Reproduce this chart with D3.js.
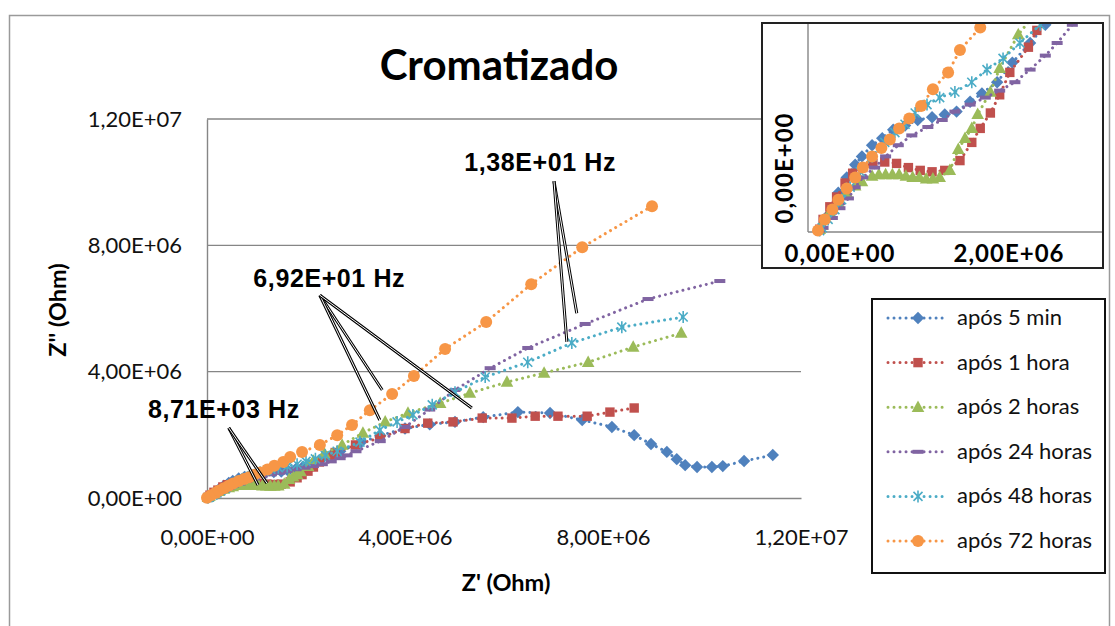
<!DOCTYPE html>
<html><head><meta charset="utf-8">
<script src="https://cdn.jsdelivr.net/npm/d3@7"></script>
<style>body{margin:0;background:#fff}svg{display:block}</style>
</head><body>
<svg id="c" width="1115" height="626"></svg>
<script>
// ---- data (values in units of 1E+06 Ohm: [Z', Z''])
const seriesNames = ["após 5 min","após 1 hora","após 2 horas","após 24 horas","após 48 horas","após 72 horas"];
const seriesColors = ["#4F81BD","#C0504D","#9BBB59","#8064A2","#4BACC6","#F79646"];
const seriesMarkers = ["diamond","square","triangle","dash","star","circle"];

const apos5min = [[0.03,0.03],[0.12,0.12],[0.24,0.28],[0.34,0.39],[0.44,0.48],[0.52,0.54],[0.64,0.62],[0.76,0.67],[0.89,0.73],[1.03,0.76],[1.18,0.80],[1.35,0.82],[1.50,0.84],[1.64,0.86],[1.80,0.93],[1.94,0.99],[2.12,1.07],[2.30,1.21],[2.51,1.35],[2.69,1.48],[3.10,1.75],[3.50,1.98],[4.00,2.20],[4.50,2.33],[5.01,2.41],[5.58,2.56],[6.28,2.72],[6.93,2.69],[7.58,2.47],[8.18,2.25],[8.63,1.99],[8.97,1.71],[9.29,1.46],[9.49,1.23],[9.66,1.04],[9.90,0.98],[10.20,0.98],[10.42,1.01],[10.85,1.17],[11.43,1.36]];
const apos1hora = [[0.02,0.02],[0.06,0.09],[0.14,0.18],[0.22,0.25],[0.32,0.35],[0.41,0.42],[0.53,0.46],[0.65,0.49],[0.79,0.50],[0.93,0.49],[1.07,0.46],[1.21,0.44],[1.35,0.43],[1.50,0.44],[1.68,0.51],[1.82,0.64],[1.92,0.74],[2.04,0.85],[2.15,0.98],[2.27,1.14],[2.49,1.32],[2.59,1.44],[3.00,1.68],[3.49,1.90],[4.00,2.20],[4.46,2.37],[4.97,2.41],[5.56,2.53],[6.16,2.53],[6.63,2.59],[7.09,2.59],[7.68,2.59],[8.14,2.72],[8.63,2.85]];
const apos2horas = [[0.02,0.02],[0.05,0.05],[0.14,0.14],[0.24,0.21],[0.34,0.28],[0.44,0.33],[0.52,0.36],[0.64,0.40],[0.72,0.41],[0.80,0.41],[0.88,0.41],[0.96,0.41],[1.04,0.40],[1.12,0.39],[1.20,0.39],[1.28,0.38],[1.36,0.38],[1.44,0.39],[1.56,0.44],[1.66,0.59],[1.74,0.67],[1.82,0.74],[1.89,0.84],[2.04,1.00],[2.15,1.17],[2.37,1.41],[2.73,1.68],[3.15,2.06],[3.60,2.41],[4.06,2.69],[4.71,3.00],[5.31,3.32],[6.06,3.67],[6.81,3.96],[7.70,4.30],[8.61,4.78],[9.58,5.22]];
const apos24horas = [[0.02,0.01],[0.06,0.03],[0.17,0.10],[0.26,0.17],[0.36,0.24],[0.44,0.32],[0.53,0.39],[0.67,0.46],[0.80,0.54],[0.95,0.62],[1.11,0.69],[1.30,0.75],[1.47,0.80],[1.62,0.86],[1.80,0.91],[1.98,0.96],[2.15,1.01],[2.33,1.07],[2.51,1.16],[2.69,1.26],[2.83,1.35],[3.01,1.48],[3.50,1.80],[4.00,2.25],[4.50,2.80],[5.01,3.42],[5.72,4.11],[6.48,4.75],[7.64,5.51],[8.91,6.30],[10.36,6.87]];
const apos48horas = [[0.02,0.01],[0.05,0.03],[0.12,0.09],[0.20,0.16],[0.28,0.23],[0.38,0.32],[0.50,0.43],[0.64,0.54],[0.79,0.64],[0.91,0.71],[1.03,0.77],[1.15,0.85],[1.29,0.91],[1.44,0.96],[1.62,1.00],[1.82,1.07],[2.00,1.16],[2.19,1.24],[2.39,1.35],[2.63,1.48],[3.09,1.77],[3.49,2.15],[3.84,2.41],[4.16,2.63],[4.55,2.95],[5.01,3.35],[5.62,3.83],[6.48,4.30],[7.37,4.91],[8.38,5.41],[9.62,5.73]];
const apos72horas = [[0.00,0.01],[0.08,0.09],[0.17,0.16],[0.24,0.23],[0.34,0.31],[0.44,0.39],[0.53,0.46],[0.64,0.54],[0.75,0.60],[0.85,0.66],[0.96,0.74],[1.08,0.81],[1.22,0.90],[1.36,1.02],[1.54,1.14],[1.68,1.30],[1.92,1.46],[2.28,1.68],[2.63,1.99],[2.93,2.31],[3.29,2.78],[3.74,3.29],[4.18,3.86],[4.81,4.72],[5.64,5.57],[6.55,6.77],[7.58,7.94],[8.99,9.24]];
const allSeries = [apos5min, apos1hora, apos2horas, apos24horas, apos48horas, apos72horas];

const mainTicks = [0,4,8,12];
const insetXTicks = [0,2];
const insetYTicks = [0];

// annotations: label, label position, leader targets (data units)
const annotations = [
  {text:"1,38E+01 Hz", at:[6.73,10.35], from:[7.01,10.03], to:[[7.47,5.85],[7.27,4.94]]},
  {text:"6,92E+01 Hz", at:[2.47,6.68], from:[2.28,6.42], to:[[3.54,3.42],[3.49,2.47],[5.35,2.85]]},
  {text:"8,71E+03 Hz", at:[0.34,2.53], from:[0.44,2.22], to:[[1.03,0.41],[1.21,0.47]]}
];

// ---- helpers
const fmtE = v => {
  const val = v*1e6;
  if (val === 0) return "0,00E+00";
  const e = Math.floor(Math.log10(val)+1e-9);
  const m = val/Math.pow(10,e);
  return m.toFixed(2).replace(".",",")+"E+"+String(e).padStart(2,"0");
};
const FONT = "Lato, 'Open Sans', sans-serif";
const svg = d3.select("#c");
const GRID = "#868686";

function marker(g, type, color) {
  if (type === "diamond") g.append("path").attr("d","M0,-6.2L6.2,0L0,6.2L-6.2,0Z").attr("fill",color);
  else if (type === "square") g.append("path").attr("d","M-4.7,-4.7h9.4v9.4h-9.4Z").attr("fill",color);
  else if (type === "triangle") g.append("path").attr("d","M0,-6.8L6.3,4.7L-6.3,4.7Z").attr("fill",color);
  else if (type === "dash") g.append("rect").attr("x",-5.5).attr("y",-2).attr("width",11).attr("height",4).attr("fill",color);
  else if (type === "star") g.append("path").attr("d","M-4.5,-4.5L4.5,4.5M-4.5,4.5L4.5,-4.5M0,-6L0,6").attr("stroke",color).attr("stroke-width",1.6).attr("fill","none");
  else if (type === "circle") g.append("circle").attr("r",6).attr("fill",color);
}

function drawSeries(g, xs, ys) {
  allSeries.forEach((data, i) => {
    const color = seriesColors[i];
    g.append("path").datum(data)
      .attr("d", d3.line().x(d => xs(d[0])).y(d => ys(d[1])))
      .attr("fill","none").attr("stroke",color).attr("stroke-width",3)
      .attr("stroke-linecap","round").attr("stroke-dasharray","0.01 6");
    data.forEach(d => {
      const m = g.append("g").attr("transform",`translate(${xs(d[0])},${ys(d[1])})`);
      marker(m, seriesMarkers[i], color);
    });
  });
}

// ---- background & outer frame
svg.append("rect").attr("width",1115).attr("height",626).attr("fill","#fff");
svg.append("rect").attr("x",9.5).attr("y",15.5).attr("width",1100).attr("height",640)
  .attr("fill","none").attr("stroke","#9a9a9a").attr("stroke-width",1.5);

// ---- main chart
const x = d3.scaleLinear().domain([0,12]).range([207,801]);
const y = d3.scaleLinear().domain([0,12]).range([498,119]);

const main = svg.append("g");
main.selectAll(".grid").data(mainTicks.filter(t => t > 0)).enter().append("line")
  .attr("x1",x(0)).attr("x2",x(12)).attr("y1",d => y(d)).attr("y2",d => y(d))
  .attr("stroke",GRID).attr("stroke-width",1.4);

const yAxis = main.append("g").attr("transform",`translate(${x(0)},0)`)
  .call(d3.axisLeft(y).tickValues(mainTicks).tickFormat(fmtE).tickSize(0).tickSizeOuter(0).tickPadding(25));
const xAxis = main.append("g").attr("transform",`translate(0,${y(0)})`)
  .call(d3.axisBottom(x).tickValues(mainTicks).tickFormat(fmtE).tickSize(0).tickSizeOuter(0).tickPadding(31));
[yAxis, xAxis].forEach(a => {
  a.select(".domain").attr("stroke",GRID).attr("stroke-width",1.4);
  a.selectAll("text").attr("font-family",FONT).attr("font-size",22).attr("fill","#111");
});

drawSeries(main.append("g"), x, y);

// annotations
const ann = svg.append("g");
annotations.forEach(a => {
  a.to.forEach(t => {
    ann.append("line").attr("x1",x(a.from[0])).attr("y1",y(a.from[1])).attr("x2",x(t[0])).attr("y2",y(t[1]))
      .attr("stroke","#000").attr("stroke-width",3);
    ann.append("line").attr("x1",x(a.from[0])).attr("y1",y(a.from[1])).attr("x2",x(t[0])).attr("y2",y(t[1]))
      .attr("stroke","#fff").attr("stroke-width",1);
  });
  ann.append("text").attr("x",x(a.at[0])).attr("y",y(a.at[1])).attr("text-anchor","middle")
    .attr("font-family","'Liberation Sans', Arial, sans-serif").attr("font-weight","bold")
    .attr("font-size",25).attr("letter-spacing",0.6).attr("fill","#000").text(a.text);
});

// titles
svg.append("text").attr("x",499).attr("y",80).attr("text-anchor","middle")
  .attr("font-family",FONT).attr("font-weight","bold").attr("font-size",42).attr("fill","#000").text("Cromatizado");
svg.append("text").attr("transform","translate(66,310) rotate(-90)").attr("text-anchor","middle")
  .attr("font-family",FONT).attr("font-weight","bold").attr("font-size",23.5).attr("fill","#000").text("Z'' (Ohm)");
svg.append("text").attr("x",506).attr("y",591).attr("text-anchor","middle")
  .attr("font-family",FONT).attr("font-weight","bold").attr("font-size",23.5).attr("fill","#000").text("Z' (Ohm)");

// ---- inset
const xi = d3.scaleLinear().domain([0,2]).range([818,987]);
const yi = d3.scaleLinear().domain([0,1]).range([232,92]);
const inset = svg.append("g");
inset.append("rect").attr("x",762).attr("y",23).attr("width",341).attr("height",245)
  .attr("fill","#fff").attr("stroke","#222").attr("stroke-width",2);
svg.append("defs").append("clipPath").attr("id","ic").append("rect")
  .attr("x",809).attr("y",24).attr("width",293).attr("height",242);
inset.append("line").attr("x1",808).attr("x2",808).attr("y1",24).attr("y2",232).attr("stroke",GRID).attr("stroke-width",1.4);
inset.append("line").attr("x1",808).attr("x2",1102).attr("y1",232).attr("y2",232).attr("stroke",GRID).attr("stroke-width",1.4);
drawSeries(inset.append("g").attr("clip-path","url(#ic)"), xi, yi);
inset.selectAll(".ixt").data(insetXTicks).enter().append("text")
  .attr("x",d => xi(d)+22).attr("y",262).attr("text-anchor","middle")
  .attr("font-family",FONT).attr("font-weight","bold").attr("font-size",24).attr("letter-spacing",1)
  .attr("fill","#000").text(fmtE);
inset.selectAll(".iyt").data(insetYTicks).enter().append("text")
  .attr("transform",d => `translate(793,${yi(d)-64}) rotate(-90)`).attr("text-anchor","middle")
  .attr("font-family",FONT).attr("font-weight","bold").attr("font-size",24).attr("letter-spacing",1)
  .attr("fill","#000").text(fmtE);

// ---- legend
const leg = svg.append("g");
leg.append("rect").attr("x",872).attr("y",299).attr("width",233).attr("height",274)
  .attr("fill","#fff").attr("stroke","#111").attr("stroke-width",2);
seriesNames.forEach((name, i) => {
  const yy = 318 + i*44.6;
  leg.append("line").attr("x1",888).attr("x2",948).attr("y1",yy).attr("y2",yy)
    .attr("stroke",seriesColors[i]).attr("stroke-width",3).attr("stroke-linecap","round").attr("stroke-dasharray","0.01 6");
  const m = leg.append("g").attr("transform",`translate(918,${yy})`);
  marker(m, seriesMarkers[i], seriesColors[i]);
  leg.append("text").attr("x",957).attr("y",yy+7).attr("font-family",FONT).attr("font-size",22)
    .attr("fill","#111").text(name);
});
</script>
</body></html>
